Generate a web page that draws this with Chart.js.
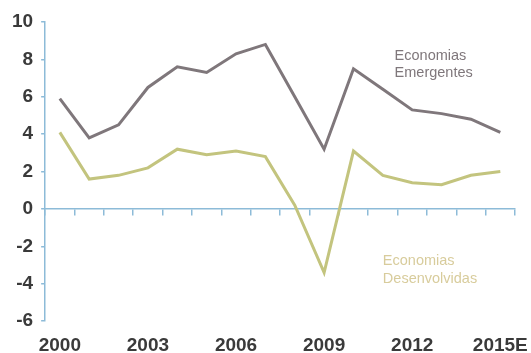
<!DOCTYPE html>
<html>
<head>
<meta charset="utf-8">
<script src="https://cdn.jsdelivr.net/npm/chart.js@4"></script>
<style>
  html, body { margin: 0; padding: 0; background: #fff; }
  #wrap { width: 531px; height: 353px; }
</style>
</head>
<body>
<div id="wrap"><canvas id="grafico"></canvas></div>
<script>
// Anos (eixo x)
const anos = ["2000", "2001", "2002", "2003", "2004", "2005", "2006", "2007",
  "2008", "2009", "2010", "2011", "2012", "2013", "2014", "2015E"];

// Crescimento do PIB (%)
const emergentes = [5.9, 3.8, 4.5, 6.5, 7.6, 7.3, 8.3, 8.8, 6.0, 3.2, 7.5, 6.4, 5.3, 5.1, 4.8, 4.1];
const desenvolvidas = [4.1, 1.6, 1.8, 2.2, 3.2, 2.9, 3.1, 2.8, 0.2, -3.4, 3.1, 1.8, 1.4, 1.3, 1.8, 2.0];

// Rótulos das séries
const rotuloEmergentes = ["Economias", "Emergentes"];
const rotuloDesenvolvidas = ["Economias", "Desenvolvidas"];

const corEixo = "#8dbbd8";
const fonteTicks = { family: "'Liberation Sans', Arial, sans-serif", size: 19, weight: "bold" };

// escreve os rótulos das séries dentro do gráfico
const rotulosPlugin = {
  id: "rotulos",
  afterDatasetsDraw(chart) {
    const { ctx, scales } = chart;
    ctx.save();
    ctx.font = "14.5px 'Liberation Sans', Arial, sans-serif";
    ctx.textBaseline = "middle";
    ctx.textAlign = "left";

    ctx.fillStyle = "#7f777b";
    const x1 = scales.x.getPixelForValue(11.4);
    ctx.fillText(rotuloEmergentes[0], x1, scales.y.getPixelForValue(8.2));
    ctx.fillText(rotuloEmergentes[1], x1, scales.y.getPixelForValue(7.25));

    ctx.fillStyle = "#d8cc9c";
    const x2 = scales.x.getPixelForValue(11.0);
    ctx.fillText(rotuloDesenvolvidas[0], x2, scales.y.getPixelForValue(-2.8));
    ctx.fillText(rotuloDesenvolvidas[1], x2, scales.y.getPixelForValue(-3.75));
    ctx.restore();
  },
};

new Chart(document.getElementById("grafico"), {
  type: "line",
  data: {
    labels: anos,
    datasets: [
      {
        label: "Economias Emergentes",
        data: emergentes,
        borderColor: "#7f777b",
        borderWidth: 3,
        pointRadius: 0,
        tension: 0,
      },
      {
        label: "Economias Desenvolvidas",
        data: desenvolvidas,
        borderColor: "#c3c47e",
        borderWidth: 3,
        pointRadius: 0,
        tension: 0,
      },
    ],
  },
  options: {
    responsive: true,
    maintainAspectRatio: false,
    animation: false,
    layout: { padding: { top: 22, right: 16, left: 4, bottom: -4 } },
    plugins: {
      legend: { display: false },
      tooltip: { enabled: false },
    },
    scales: {
      x: {
        type: "category",
        offset: true,
        // marcas invisíveis só para afastar os rótulos do gráfico
        grid: { display: false, drawTicks: true, tickLength: 13 },
        border: { display: false },
        ticks: {
          autoSkip: false,
          maxRotation: 0,
          padding: 0,
          color: "#3a3a3a",
          font: fonteTicks,
          callback: function (val, i) {
            return i % 3 === 0 ? anos[i] : "";
          },
        },
      },
      // eixo no zero com as marcas entre os anos
      xZero: {
        type: "category",
        axis: "x",
        position: { y: 0 },
        offset: true,
        grid: { drawOnChartArea: false, offset: true, color: corEixo, tickLength: 6, lineWidth: 1.5 },
        border: { color: corEixo, width: 1.5 },
        ticks: { display: false },
      },
      y: {
        min: -6,
        max: 10,
        ticks: { stepSize: 2, color: "#3a3a3a", font: fonteTicks, padding: 8 },
        grid: { drawOnChartArea: false, color: corEixo, tickLength: 4, lineWidth: 1.5 },
        border: { color: corEixo, width: 1.5 },
      },
    },
  },
  plugins: [rotulosPlugin],
});
</script>
</body>
</html>
